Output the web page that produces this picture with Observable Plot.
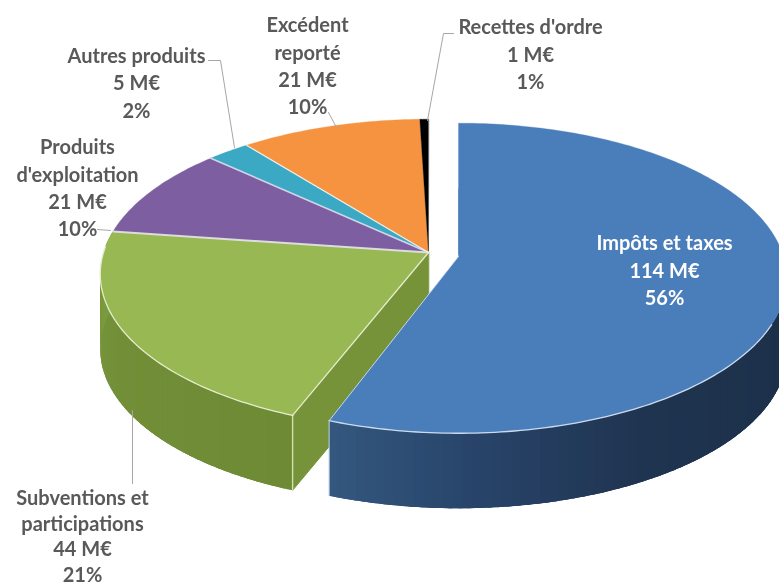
<!DOCTYPE html>
<html>
<head>
<meta charset="utf-8">
<style>html,body{margin:0;padding:0;background:#fff}svg{display:block}</style>
<script src="https://cdn.jsdelivr.net/npm/d3@7"></script>
<script src="https://cdn.jsdelivr.net/npm/@observablehq/plot@0.6"></script>
</head>
<body>
<script>
// Data
const categories = ["Impôts et taxes","Subventions et\nparticipations","Produits\nd'exploitation","Autres produits","Excédent\nreporté","Recettes d'ordre"];
const amounts = [114,44,21,5,21,1];
const shares = [56,21,10,2,10,1];
const colors = ["#4a7ebb","#97b852","#7d5ea0","#3ca9c4","#f59340","#000000"];

// Label placement (centre of each block of text), in picture units
const labelX = [664,82,77,136,307,530];
const labelY = [268.5,534.6,186,81,64,52.5];
const labelFill = ["#ffffff","#595959","#595959","#595959","#595959","#595959"];
const leaders = [
  [[453,33],[443,33],[427,120]],
  [[328,112],[336,127]],
  [[208,60],[220,60],[234,147]],
  [[132,410],[132,483]],
  [[97,229],[110,230]]
];

// Projection of the tilted disc
const W = 779, H = 586;
const pie = {cx:428, cy:252, rx:325, ry:152, k:0.14, depth:75};
const blueCentre = {cx:458, cy:256};
const total = d3.sum(amounts);
const stops = []; amounts.reduce((a,v)=>{stops.push([a/total*360,(a+v)/total*360]);return a+v;},0);
// small angle corrections: the edges of blue and green
stops[0][1] += 1; stops[1][0] += 2.1; stops[1][1] += 2; stops[2][0] += 2;
const project = (c,t) => {
  const r = t*Math.PI/180, X = Math.sin(r), Z = Math.cos(r), w = 1+pie.k*Z;
  return [c.cx+pie.rx*X/w, c.cy-pie.ry*Z/w];
};
const arc = (c,a,b,n=Math.max(2,Math.ceil(Math.abs(b-a)))) => d3.range(n+1).map(i=>project(c,a+(b-a)*i/n));
const down = p => [p[0],p[1]+pie.depth];
const centreOf = i => i===0 ? blueCentre : pie;
const tops = amounts.map((_,i)=>{const c=centreOf(i);return [[c.cx,c.cy],...arc(c,stops[i][0],stops[i][1])];});

const rows = (pts,id,fill)=>pts.map(p=>({x:p[0],y:p[1],id,fill}));
const shape = (data,opts={}) => Plot.line(data,{x:"x",y:"y",z:"id",fill:"fill",stroke:"fill",strokeWidth:1,curve:"linear-closed",...opts});

// Curved outer walls, shaded strip by strip; each strip runs on under the next one
function wall(c,a,b,colorAt,tag){
  const out=[]; const n=Math.ceil(Math.abs(b-a)/1.5);
  for(let i=0;i<n;i++){
    const t0=a+(b-a)*i/n, t1=a+(b-a)*Math.min(n,i+2.5)/n;
    const top=arc(c,t0,t1,4);
    out.push(...rows([...top,...top.map(down).reverse()],tag+String(i).padStart(3,"0"),colorAt((i+.5)/n)));
  }
  return out;
}
const blueShade = d3.scaleLinear().domain([0,.55,.8,1]).range(["#1b2e46","#1f3450","#28446a","#34587f"]).interpolate(d3.interpolateRgb);
const greenShade = d3.scaleLinear().domain([0,.55,1]).range(["#6e8a35","#728f38","#7d9c40"]).interpolate(d3.interpolateRgb);
const greenStart = stops[1][0], greenEnd = stops[1][1], blueEnd = stops[0][1];
const greenCorner = project(pie,greenStart);
const greenCut = rows([[pie.cx,pie.cy],greenCorner,down(greenCorner),[pie.cx,pie.cy+pie.depth]],"cut","#76933a");
const greenWall = wall(pie,greenStart,greenEnd,greenShade,"g");
const blueWall = wall(blueCentre,90,blueEnd,blueShade,"b");
const blueSliver = rows([[blueCentre.cx,blueCentre.cy-68],[blueCentre.cx+1.5,blueCentre.cy-68],[blueCentre.cx+2.5,blueCentre.cy-2],[blueCentre.cx,blueCentre.cy-2]],"sl","#2f4f78");
const faces = tops.flatMap((t,i)=>rows(t,"f"+i,colors[i]));

// Pale edges along slices
const edge = (pts,stroke="#eef3dc",sw=1.3,op=.9)=>Plot.line(pts,{x:d=>d[0],y:d=>d[1],stroke,strokeWidth:sw,strokeOpacity:op});
const inner = i => [[pie.cx,pie.cy],project(pie,stops[i][1])];
const bc = [blueCentre.cx,blueCentre.cy];

const labels = categories.map((c,i)=>({text:`${c}\n${amounts[i]} M€\n${shares[i]}%`,x:labelX[i],y:labelY[i],fill:labelFill[i]}));
const textStyle = {x:"x",y:"y",text:"text",fill:"fill",fontFamily:"Lato",fontWeight:700,fontSize:20,textAnchor:"middle",lineAnchor:"middle"};

const chart = Plot.plot({
  width:W,height:H,margin:0,
  x:{domain:[0,W],range:[0,W],axis:null},
  y:{domain:[0,H],range:[0,H],axis:null},
  color:{type:"identity"},
  style:{filter:"blur(0.55px)",background:"#fff"},
  marks:[
    shape(greenCut),
    shape(greenWall,{stroke:null,strokeWidth:0}),
    edge([greenCorner,down(greenCorner)],"#dfe8b8",1.4),
    shape(blueWall,{stroke:null,strokeWidth:0}),
    shape(blueSliver,{strokeWidth:0}),
    shape(faces,{strokeWidth:0.3}),
    edge(arc(pie,greenStart,greenEnd-6)),
    edge([[pie.cx,pie.cy],greenCorner]),
    edge(inner(1),"#e6e6e6",2),
    edge(inner(2),"#dcdcec",1.6),
    edge(inner(3),"#eef6f8",1.2),
    edge(arc(blueCentre,115,blueEnd),"#dbe6f5",1.3),
    edge([bc,project(blueCentre,blueEnd)],"#cfe0f2",1),
    edge([project(blueCentre,blueEnd),down(project(blueCentre,blueEnd))],"#b9cde6",1.2),
    ...leaders.map(l=>edge(l,"#a6a6a6",1,1)),
    Plot.text(labels.filter((_,i)=>i!==1),{...textStyle,lineHeight:1.37}),
    Plot.text(labels.filter((_,i)=>i===1),{...textStyle,lineHeight:1.28})
  ]
});
document.body.appendChild(chart);
</script>
</body>
</html>
